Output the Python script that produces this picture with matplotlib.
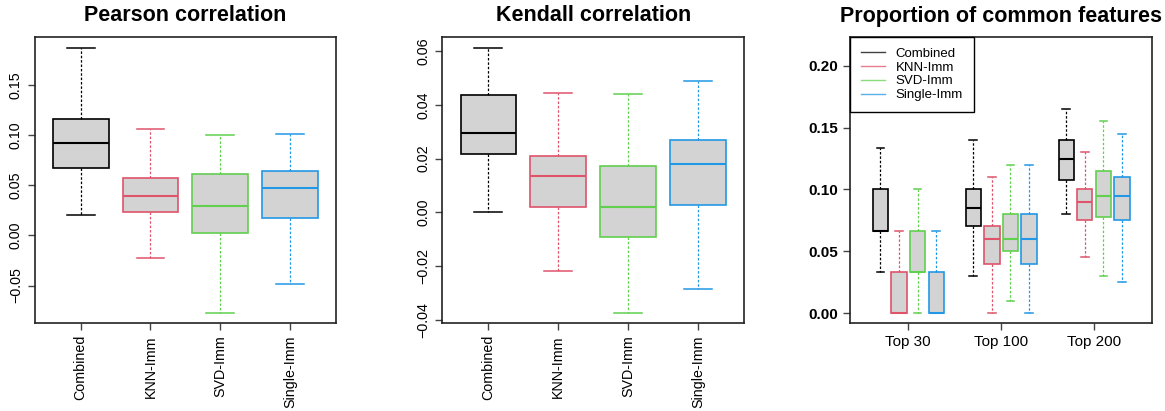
import matplotlib
matplotlib.use("Agg")
import matplotlib.pyplot as plt
from matplotlib.lines import Line2D

plt.rcParams['font.family'] = ['Liberation Sans', 'DejaVu Sans']

methods = ["Combined", "KNN-Imm", "SVD-Imm", "Single-Imm"]
colors = ["#000000", "#DF536B", "#61D04F", "#2297E6"]
box_fill = "#D3D3D3"

# [lower whisker, Q1, median, Q3, upper whisker]
pearson_combined = [0.020, 0.0667, 0.0916, 0.1155, 0.1868]
pearson_knn = [-0.0229, 0.0232, 0.0394, 0.0571, 0.1062]
pearson_svd = [-0.0771, 0.0023, 0.0289, 0.0611, 0.1002]
pearson_single = [-0.0485, 0.0169, 0.0471, 0.0640, 0.1012]

kendall_combined = [0.0000, 0.0218, 0.0294, 0.0437, 0.0613]
kendall_knn = [-0.0217, 0.0020, 0.0134, 0.0209, 0.0443]
kendall_svd = [-0.0375, -0.0091, 0.0020, 0.0171, 0.0439]
kendall_single = [-0.0285, 0.0026, 0.0180, 0.0268, 0.0489]

top_labels = ["Top 30", "Top 100", "Top 200"]
common_combined = [[0.0333, 0.0667, 0.0667, 0.1000, 0.1333],
                   [0.030, 0.070, 0.085, 0.100, 0.140],
                   [0.080, 0.1075, 0.125, 0.140, 0.165]]
common_knn = [[0.0, 0.0, 0.0, 0.0333, 0.0667],
              [0.0, 0.040, 0.060, 0.070, 0.110],
              [0.045, 0.075, 0.090, 0.100, 0.130]]
common_svd = [[0.0, 0.0333, 0.0333, 0.0667, 0.1000],
              [0.010, 0.050, 0.060, 0.080, 0.120],
              [0.030, 0.0775, 0.095, 0.115, 0.155]]
common_single = [[0.0, 0.0, 0.0, 0.0333, 0.0667],
                 [0.0, 0.040, 0.060, 0.080, 0.120],
                 [0.025, 0.075, 0.095, 0.110, 0.145]]


def stat(v):
    return dict(whislo=v[0], q1=v[1], med=v[2], q3=v[3], whishi=v[4], fliers=[])


def draw_box(ax, v, pos, width, color):
    ax.bxp([stat(v)], positions=[pos], widths=width, patch_artist=True,
           showfliers=False, capwidths=width * 0.5,
           boxprops=dict(facecolor=box_fill, edgecolor=color, linewidth=1.2),
           medianprops=dict(color=color, linewidth=1.5),
           whiskerprops=dict(color=color, linewidth=0.9, linestyle=(0, (2, 1.5))),
           capprops=dict(color=color, linewidth=1.1))


fig = plt.figure(figsize=(11.65, 4.11), dpi=100)
ax1 = fig.add_axes([0.0298, 0.2134, 0.2586, 0.6973])
ax2 = fig.add_axes([0.3797, 0.2134, 0.2590, 0.6973])
ax3 = fig.add_axes([0.7299, 0.2134, 0.2590, 0.6966])

title_kw = dict(fontsize=15.5, fontweight='bold', pad=11)

for ax, data, ylim, yticks, title in [
    (ax1, [pearson_combined, pearson_knn, pearson_svd, pearson_single],
     (-0.0876, 0.1978), [-0.05, 0.0, 0.05, 0.10, 0.15], "Pearson correlation"),
    (ax2, [kendall_combined, kendall_knn, kendall_svd, kendall_single],
     (-0.0413, 0.0654), [-0.04, -0.02, 0.0, 0.02, 0.04, 0.06], "Kendall correlation"),
]:
    for i, (v, c) in enumerate(zip(data, colors)):
        draw_box(ax, v, i + 1, 0.8, c)
    ax.set_xlim(0.34, 4.66)
    ax.set_ylim(*ylim)
    ax.set_xticks(range(1, 5))
    ax.set_xticklabels(methods, rotation=90, fontsize=10.3)
    ax.set_yticks(yticks)
    ax.set_yticklabels([f"{t:.2f}".replace("-", "\u2212") for t in yticks],
                       rotation=90, va='center', fontsize=10.3)
    ax.set_title(title, **title_kw)

offsets = [-0.3, -0.1, 0.1, 0.3]
groups = [common_combined, common_knn, common_svd, common_single]
for m, (gdata, c) in enumerate(zip(groups, colors)):
    for g, v in enumerate(gdata):
        draw_box(ax3, v, g + 1 + offsets[m], 0.165, c)
ax3.set_xlim(0.376, 3.624)
ax3.set_ylim(-0.0083, 0.2233)
ax3.set_xticks([1, 2, 3])
ax3.set_xticklabels(top_labels, fontsize=11)
ax3.set_yticks([0.0, 0.05, 0.10, 0.15, 0.20])
ax3.set_yticklabels([f"{t:.2f}" for t in [0.0, 0.05, 0.10, 0.15, 0.20]],
                    fontsize=11, fontweight='bold')
ax3.set_title("Proportion of common features", **title_kw)
handles = [Line2D([0], [0], color=c, linewidth=1.0, alpha=0.75) for c in colors]
leg = ax3.legend(handles, methods, loc='upper left', borderaxespad=0,
                 fontsize=9.5, fancybox=False, framealpha=1, edgecolor='black',
                 handlelength=1.8, handletextpad=0.85, labelspacing=0.12,
                 borderpad=0.8)
leg.get_frame().set_linewidth(1.0)

for ax in (ax1, ax2, ax3):
    for s in ax.spines.values():
        s.set_linewidth(1.2)
        s.set_color('#222222')
    ax.tick_params(direction='out', length=5, width=1, color='#444444', pad=3.5)

fig.savefig("out.png", dpi=100)
